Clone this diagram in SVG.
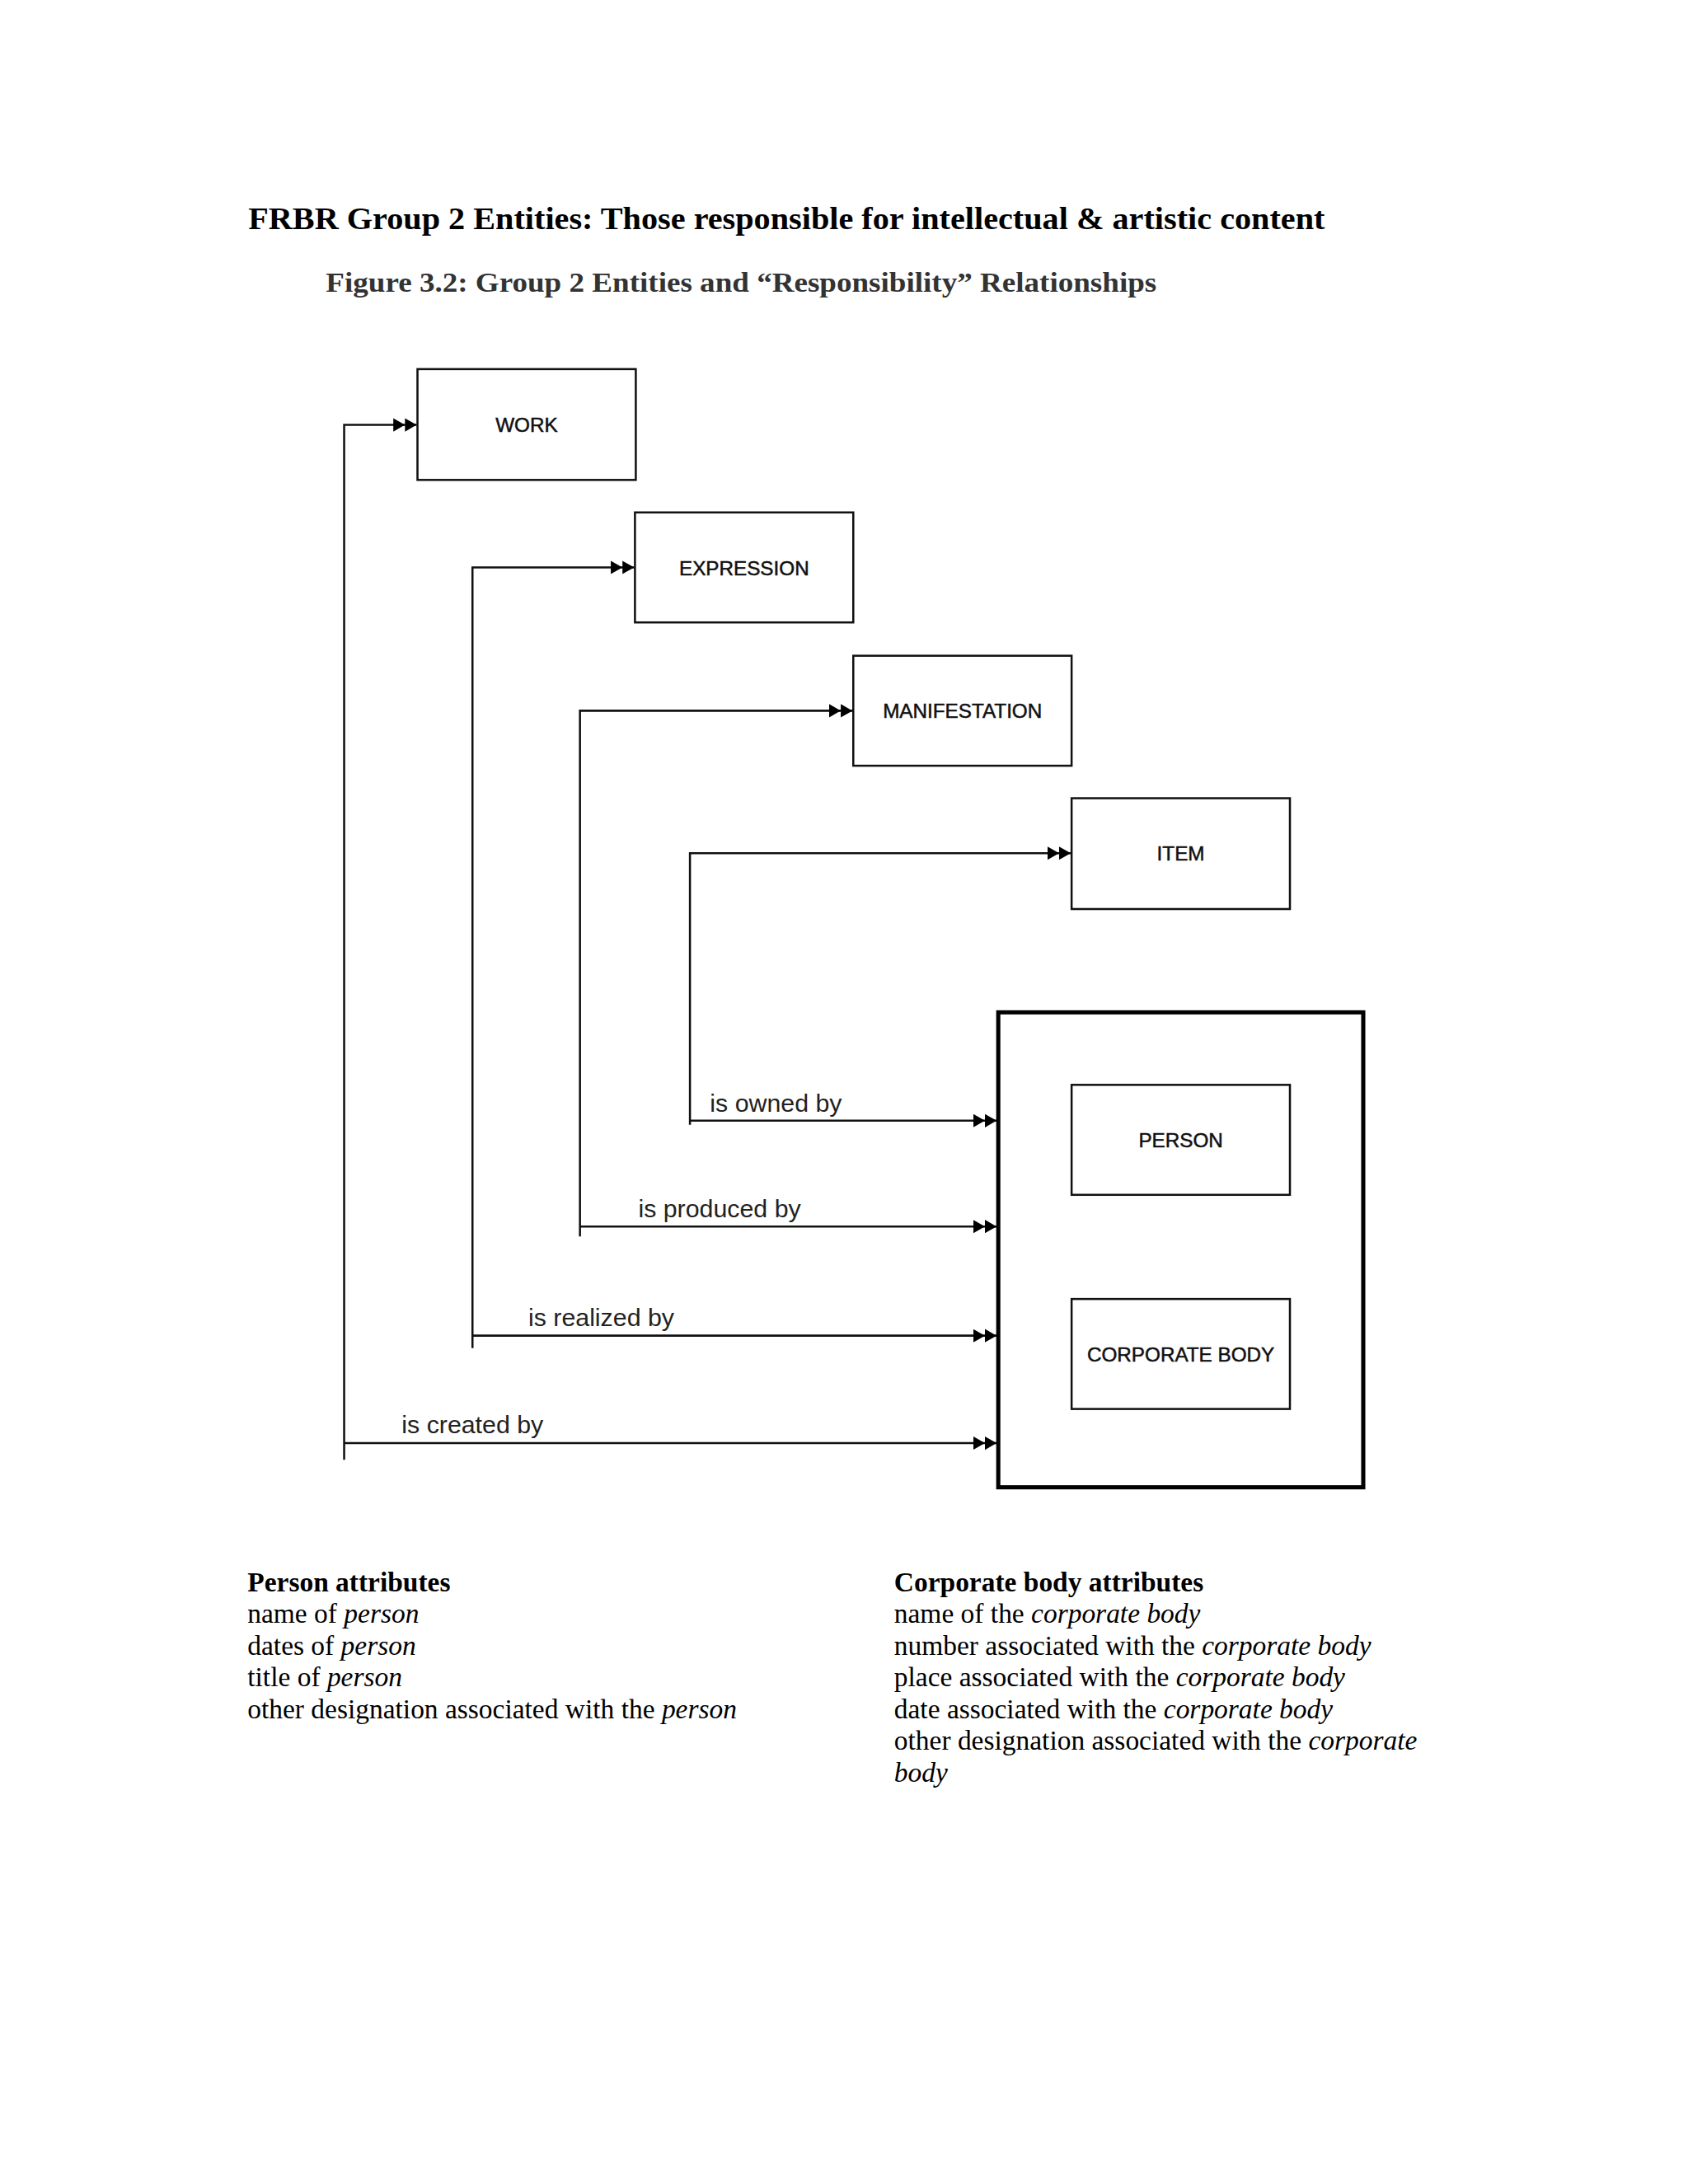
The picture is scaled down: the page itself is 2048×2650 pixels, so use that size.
<svg xmlns="http://www.w3.org/2000/svg" width="2048" height="2650" viewBox="0 0 2048 2650">
<style>
.bg{fill:#fff}
.box{fill:#fff;stroke:#111;stroke-width:2.5}
.big{fill:none;stroke:#000;stroke-width:5}
.lbl{font-family:"Liberation Sans",Arial,sans-serif;font-size:24px;fill:#111;stroke:#111;stroke-width:0.5;text-anchor:middle}
.rel{font-family:"Liberation Sans",Arial,sans-serif;font-size:30px;fill:#222}
.ln{fill:none;stroke:#111;stroke-width:2.5}
.title{font-family:"Liberation Serif","Times New Roman",serif;font-weight:bold;font-size:37px;fill:#000}
.sub{font-family:"Liberation Serif","Times New Roman",serif;font-weight:bold;font-size:33px;fill:#333}
.txt{font-family:"Liberation Serif","Times New Roman",serif;font-size:33.1px;fill:#000}
.b{font-weight:bold}
.i{font-style:italic}
</style>
<defs>
<marker id="dbl" markerUnits="userSpaceOnUse" markerWidth="30" markerHeight="18" refX="28" refY="9" orient="auto" viewBox="0 0 30 18">
<path d="M0,1 L14,9 L0,17 Z M14,1 L28,9 L14,17 Z" fill="#000"/>
</marker>
</defs>
<rect class="bg" x="0" y="0" width="2048" height="2650"/>
<g id="page" transform="scale(1.011)">
<g id="headings">
<text class="title" x="298" y="275" textLength="1292" lengthAdjust="spacingAndGlyphs">FRBR Group 2 Entities: Those responsible for intellectual &amp; artistic content</text>
<text class="sub" x="391" y="350" textLength="997" lengthAdjust="spacingAndGlyphs">Figure 3.2:  Group 2 Entities and “Responsibility” Relationships</text>
</g>
<g id="connectors">
<polyline class="ln" points="413,1752 413,510 500,510" marker-end="url(#dbl)"/>
<polyline class="ln" points="567,1618 567,681 761,681" marker-end="url(#dbl)"/>
<polyline class="ln" points="696,1484 696,853 1023,853" marker-end="url(#dbl)"/>
<polyline class="ln" points="828,1350 828,1024 1285,1024" marker-end="url(#dbl)"/>
<line class="ln" x1="828" y1="1345" x2="1196" y2="1345" marker-end="url(#dbl)"/>
<line class="ln" x1="696" y1="1472" x2="1196" y2="1472" marker-end="url(#dbl)"/>
<line class="ln" x1="567" y1="1603" x2="1196" y2="1603" marker-end="url(#dbl)"/>
<line class="ln" x1="413" y1="1732" x2="1196" y2="1732" marker-end="url(#dbl)"/>
<text class="rel" x="852" y="1334">is owned by</text>
<text class="rel" x="766" y="1461">is produced by</text>
<text class="rel" x="634" y="1591">is realized by</text>
<text class="rel" x="482" y="1720">is created by</text>
</g>
<g id="work">
<rect class="box" x="501" y="443" width="262" height="133"/>
<text class="lbl" x="632" y="518">WORK</text>
</g>
<g id="expression">
<rect class="box" x="762" y="615" width="262" height="132"/>
<text class="lbl" x="893" y="690">EXPRESSION</text>
</g>
<g id="manifestation">
<rect class="box" x="1024" y="787" width="262" height="132"/>
<text class="lbl" x="1155" y="862">MANIFESTATION</text>
</g>
<g id="item">
<rect class="box" x="1286" y="958" width="262" height="133"/>
<text class="lbl" x="1417" y="1033">ITEM</text>
</g>
<g id="group2">
<rect class="big" x="1198" y="1215" width="438" height="570"/>
</g>
<g id="person">
<rect class="box" x="1286" y="1302" width="262" height="132"/>
<text class="lbl" x="1417" y="1377">PERSON</text>
</g>
<g id="corporate-body">
<rect class="box" x="1286" y="1559" width="262" height="132"/>
<text class="lbl" x="1417" y="1634">CORPORATE BODY</text>
</g>
<g id="person-attributes">
<text class="txt b" x="297" y="1910">Person attributes</text>
<text class="txt" x="297" y="1948">name of <tspan class="i">person</tspan></text>
<text class="txt" x="297" y="1986">dates of <tspan class="i">person</tspan></text>
<text class="txt" x="297" y="2024">title of <tspan class="i">person</tspan></text>
<text class="txt" x="297" y="2062">other designation associated with the <tspan class="i">person</tspan></text>
</g>
<g id="corporate-attributes">
<text class="txt b" x="1073" y="1910">Corporate body attributes</text>
<text class="txt" x="1073" y="1948">name of the <tspan class="i">corporate body</tspan></text>
<text class="txt" x="1073" y="1986">number associated with the <tspan class="i">corporate body</tspan></text>
<text class="txt" x="1073" y="2024">place associated with the <tspan class="i">corporate body</tspan></text>
<text class="txt" x="1073" y="2062">date associated with the <tspan class="i">corporate body</tspan></text>
<text class="txt" x="1073" y="2100">other designation associated with the <tspan class="i">corporate</tspan></text>
<text class="txt" x="1073" y="2138"><tspan class="i">body</tspan></text>
</g>
</g>
</svg>
